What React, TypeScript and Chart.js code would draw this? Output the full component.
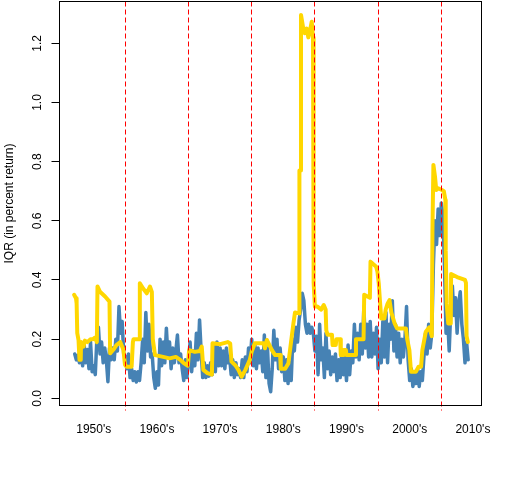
import { useEffect, useRef } from "react";
import { Chart, registerables } from "chart.js";

Chart.register(...registerables);

// Decade separators and labels
const decadeLines = [1960, 1970, 1980, 1990, 2000, 2010];
const decadeLabelYears = [1955, 1965, 1975, 1985, 1995, 2005, 2015];
const decadeLabels = ["1950's", "1960's", "1970's", "1980's", "1990's", "2000's", "2010's"];
const yTicks = [0, 0.2, 0.4, 0.6, 0.8, 1.0, 1.2];

// Blue series: quarterly observations starting 1952.0
const blueStart = 1952;
const blueStep = 0.25;
const blueValues = [
  0.15, 0.13, 0.145, 0.12,
  0.16, 0.11, 0.18, 0.12,
  0.165, 0.10, 0.19, 0.09,
  0.11, 0.08, 0.20, 0.24,
  0.15, 0.19, 0.12, 0.17,
  0.13, 0.056, 0.17, 0.13,
  0.17, 0.13, 0.20, 0.16,
  0.31, 0.22, 0.26, 0.15,
  0.14, 0.10, 0.15, 0.07,
  0.10, 0.06, 0.09, 0.055,
  0.09, 0.06, 0.12, 0.20,
  0.12, 0.29, 0.16, 0.25,
  0.14, 0.15, 0.07, 0.034,
  0.09, 0.045, 0.20, 0.11,
  0.19, 0.12, 0.237, 0.14,
  0.19, 0.10, 0.17, 0.12,
  0.16, 0.214, 0.12, 0.15,
  0.10, 0.06, 0.13, 0.07,
  0.13, 0.19, 0.09, 0.16,
  0.11, 0.22, 0.13, 0.265,
  0.16, 0.07, 0.12, 0.07,
  0.11, 0.075, 0.12, 0.08,
  0.18, 0.09, 0.19, 0.11,
  0.17, 0.11, 0.16, 0.10,
  0.17, 0.12, 0.14, 0.08,
  0.13, 0.07, 0.12, 0.08,
  0.10, 0.07, 0.13, 0.07,
  0.14, 0.09, 0.17, 0.12,
  0.20, 0.11, 0.18, 0.10,
  0.17, 0.12, 0.16, 0.09,
  0.214, 0.07, 0.17, 0.05,
  0.022, 0.10, 0.23, 0.13,
  0.20, 0.10, 0.17, 0.09,
  0.14, 0.06, 0.13, 0.05,
  0.12, 0.06, 0.20, 0.16,
  0.24, 0.19, 0.265, 0.30,
  0.355, 0.33, 0.25, 0.22,
  0.25, 0.22, 0.24, 0.22,
  0.16, 0.21, 0.08, 0.25,
  0.13, 0.17, 0.07, 0.22,
  0.10, 0.16, 0.08, 0.14,
  0.09, 0.15, 0.06, 0.13,
  0.07, 0.16, 0.08, 0.14,
  0.06, 0.18, 0.08, 0.16,
  0.12, 0.25, 0.14, 0.22,
  0.13, 0.25, 0.15, 0.31,
  0.17, 0.25, 0.14, 0.26,
  0.14, 0.22, 0.15, 0.24,
  0.10, 0.20, 0.12, 0.26,
  0.14, 0.29, 0.12, 0.25,
  0.20, 0.33, 0.16, 0.25,
  0.14, 0.22, 0.12, 0.20,
  0.14, 0.20, 0.31, 0.13,
  0.06, 0.10, 0.04, 0.09,
  0.05, 0.10, 0.04, 0.09,
  0.06, 0.14, 0.22, 0.15,
  0.25, 0.17, 0.22, 0.45,
  0.60, 0.52, 0.64, 0.55,
  0.66, 0.62, 0.45, 0.22,
  0.27, 0.16, 0.30, 0.38,
  0.28, 0.34, 0.22, 0.32,
  0.36, 0.25, 0.20, 0.12,
  0.19, 0.13,
];

// Gold series (step-like)
const goldYears = [
  1951.9, 1952.2, 1952.3, 1952.4, 1952.6, 1952.75, 1952.95, 1953.0, 1953.4, 1953.6,
  1954.0, 1954.5, 1954.9, 1955.2, 1955.5, 1955.6, 1956.0, 1956.8, 1957.5, 1957.6,
  1958.1, 1958.6, 1959.2, 1959.7, 1959.95, 1960.2, 1961.0, 1961.2, 1961.3, 1962.2,
  1962.3, 1962.85, 1963.4, 1963.9, 1964.2, 1964.35, 1964.7, 1966.0, 1967.0, 1968.0,
  1968.7, 1969.2, 1969.9, 1970.1, 1971.0, 1971.8, 1972.1, 1972.35, 1973.0, 1973.7,
  1973.8, 1975.0, 1976.2, 1976.6, 1976.8, 1977.4, 1977.9, 1978.4, 1979.0, 1979.7,
  1980.0, 1980.5, 1981.9, 1982.1, 1982.4, 1983.2, 1983.7, 1984.5, 1984.6, 1985.3,
  1985.8, 1986.2, 1986.6, 1986.85, 1987.5, 1987.55, 1987.75, 1987.8, 1988.2, 1988.4,
  1988.7, 1988.96, 1989.2, 1989.5, 1989.7, 1989.75, 1989.85, 1990.0, 1990.4, 1991.0,
  1991.4, 1991.7, 1991.8, 1992.0, 1992.7, 1992.8, 1993.3, 1993.4, 1994.0, 1994.1,
  1994.5, 1994.55, 1994.9, 1995.0, 1996.4, 1996.5, 1997.7, 1997.8, 1998.7, 1998.8,
  1999.7, 1999.9, 2000.1, 2000.3, 2000.5, 2001.0, 2001.2, 2001.5, 2001.8, 2002.1,
  2002.6, 2003.0, 2004.4, 2004.6, 2004.95, 2005.2, 2006.0, 2006.4, 2006.8, 2007.0,
  2007.55, 2008.1, 2008.5, 2008.6, 2008.75, 2009.0, 2009.2, 2009.5, 2010.1, 2010.4,
  2010.65, 2010.7, 2010.85, 2011.1, 2011.5, 2011.55, 2012.5, 2013.75, 2013.9, 2014.0,
  2014.2,
];
const goldValues = [
  0.35, 0.338, 0.32, 0.22, 0.197, 0.13, 0.13, 0.19, 0.175, 0.195,
  0.19, 0.2, 0.2, 0.205, 0.19, 0.378, 0.36, 0.344, 0.327, 0.152,
  0.164, 0.18, 0.19, 0.164, 0.113, 0.107, 0.107, 0.19, 0.2, 0.2,
  0.389, 0.37, 0.355, 0.378, 0.36, 0.2, 0.146, 0.14, 0.135, 0.14,
  0.13, 0.12, 0.11, 0.163, 0.157, 0.16, 0.175, 0.096, 0.085, 0.08,
  0.186, 0.183, 0.19, 0.185, 0.124, 0.112, 0.096, 0.073, 0.096, 0.13,
  0.158, 0.186, 0.186, 0.169, 0.197, 0.163, 0.146, 0.146, 0.1, 0.1,
  0.118, 0.186, 0.253, 0.29, 0.287, 0.77, 0.77, 1.296, 1.245, 1.234,
  1.25, 1.22, 1.24, 1.273, 1.22, 0.58, 0.39, 0.31, 0.31, 0.3,
  0.315, 0.3, 0.23, 0.215, 0.215, 0.18, 0.18, 0.2, 0.2, 0.146,
  0.146, 0.163, 0.163, 0.146, 0.146, 0.2, 0.2, 0.35, 0.34, 0.462,
  0.445, 0.428, 0.389, 0.327, 0.27, 0.27, 0.3, 0.32, 0.332, 0.29,
  0.254, 0.236, 0.236, 0.2, 0.163, 0.09, 0.09, 0.107, 0.107, 0.163,
  0.225, 0.24, 0.21, 0.57, 0.789, 0.75, 0.704, 0.71, 0.704, 0.7,
  0.67, 0.5, 0.32, 0.253, 0.253, 0.42, 0.41, 0.4, 0.39, 0.21,
  0.19,
];

const FONT = "'Liberation Sans', Arial, sans-serif";

function noScalePadding(s: any) {
  s.paddingTop = 0;
  s.paddingBottom = 0;
  s.paddingLeft = 0;
  s.paddingRight = 0;
}

export default function App() {
  const ref = useRef<HTMLCanvasElement>(null);

  useEffect(() => {
    document.body.style.margin = "0";
    const canvas = ref.current;
    if (!canvas) return;

    const framePlugin = {
      id: "frame",
      afterDatasetsDraw(chart: any) {
        const { ctx, chartArea, scales } = chart;
        ctx.save();
        // decade dashed lines
        ctx.strokeStyle = "#FF0000";
        ctx.lineWidth = 1;
        ctx.setLineDash([5, 3]);
        decadeLines.forEach((yr) => {
          const px = Math.floor(scales.x.getPixelForValue(yr)) + 0.5;
          ctx.beginPath();
          ctx.moveTo(px, chartArea.top);
          ctx.lineTo(px, chartArea.bottom + 5);
          ctx.stroke();
        });
        ctx.setLineDash([]);
        // box
        ctx.strokeStyle = "#000";
        ctx.lineWidth = 1;
        ctx.strokeRect(
          chartArea.left,
          chartArea.top,
          chartArea.right - chartArea.left,
          chartArea.bottom - chartArea.top
        );
        ctx.restore();
      },
    };

    const chart = new Chart(canvas, {
      type: "line",
      data: {
        datasets: [
          {
            label: "gold",
            data: goldYears.map((x, i) => ({ x, y: goldValues[i] })),
            borderColor: "#FFD700",
            borderWidth: 4,
            pointRadius: 0,
            tension: 0,
            borderCapStyle: "round",
            borderJoinStyle: "round",
            order: 0,
          },
          {
            label: "blue",
            data: blueValues.map((y, i) => ({ x: blueStart + i * blueStep, y })),
            borderColor: "#4682B4",
            borderWidth: 3.5,
            pointRadius: 0,
            tension: 0,
            borderCapStyle: "round",
            borderJoinStyle: "round",
            order: 1,
          },
        ],
      },
      options: {
        animation: false,
        responsive: false,
        devicePixelRatio: 1,
        layout: { autoPadding: false, padding: { top: 1.5, right: 30.5, left: 0, bottom: 0 } },
        plugins: { legend: { display: false }, tooltip: { enabled: false } },
        scales: {
          x: {
            type: "linear",
            min: 1949.589,
            max: 2016.361,
            afterFit: (s: any) => {
              s.height = 74.5;
              noScalePadding(s);
            },
            afterBuildTicks: (s: any) => {
              s.ticks = decadeLabelYears.map((v) => ({ value: v }));
            },
            ticks: {
              callback: (_v: any, i: number) => decadeLabels[i],
              color: "#000",
              font: { family: FONT, size: 12 },
              padding: 17,
              minRotation: 0,
              maxRotation: 0,
              autoSkip: false,
            },
            grid: { display: false, drawTicks: false },
            border: { display: false },
          },
          y: {
            type: "linear",
            min: -0.02434,
            max: 1.3413,
            afterFit: (s: any) => {
              s.width = 59.5;
              noScalePadding(s);
            },
            afterBuildTicks: (s: any) => {
              s.ticks = yTicks.map((v) => ({ value: v }));
            },
            ticks: {
              callback: (v: any) => Number(v).toFixed(1),
              color: "#000",
              font: { family: FONT, size: 12 },
              minRotation: 90,
              maxRotation: 90,
              crossAlign: "center",
              padding: 5,
              autoSkip: false,
            },
            grid: {
              drawOnChartArea: false,
              drawTicks: true,
              tickLength: 8,
              color: "#000",
              lineWidth: 1,
            },
            border: { display: false },
            title: {
              display: true,
              text: "IQR (in percent return)",
              color: "#000",
              font: { family: FONT, size: 12 },
              padding: { top: 2.8, bottom: 0 },
            },
          },
        },
      },
      plugins: [framePlugin],
    });

    return () => chart.destroy();
  }, []);

  return (
    <canvas
      ref={ref}
      width={512}
      height={480}
      style={{ display: "block", width: 512, height: 480 }}
    />
  );
}
